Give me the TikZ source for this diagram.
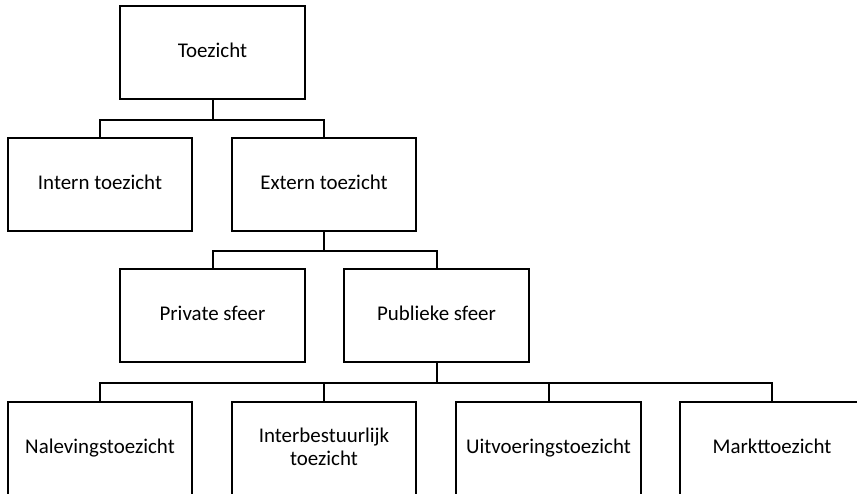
\documentclass[tikz,border=0pt]{standalone}
\usepackage{fontspec}
\setmainfont{Carlito}
\begin{document}
\begin{tikzpicture}[x=0.75pt,y=-0.75pt,
  box/.style={draw=black,line width=1.5pt,rectangle,minimum width=138.5pt,minimum height=69.75pt,
    inner sep=0pt,align=center,text height=12pt,text depth=4pt,font=\fontsize{15.7}{17}\selectfont},
  conn/.style={draw=black,line width=1.5pt}]
\useasboundingbox (0,0) rectangle (857,493);
\clip (0,0) rectangle (857,493);
\fill[white] (0,0) rectangle (857,493);
\node[box] (t) at (212.5,52.5) {Toezicht};
\node[box] (i) at (100,184.5) {Intern toezicht};
\node[box] (e) at (324,184.5) {Extern toezicht};
\node[box] (p) at (212.5,315.5) {Private sfeer};
\node[box] (u) at (436.5,315.5) {Publieke sfeer};
\node[box] (n) at (100,448.5) {Nalevingstoezicht};
\node[box,text height=29pt] (b) at (324,448.5) {Interbestuurlijk\\toezicht};
\node[box] (v) at (548.5,448.5) {Uitvoeringstoezicht};
\node[box] (m) at (772,448.5) {Markttoezicht};
\draw[conn] (t.south) -- ++(0,20) -| (i.north);
\draw[conn] (t.south) ++(0,20) -| (e.north);
\draw[conn] (e.south) -- ++(0,19) -| (p.north);
\draw[conn] (e.south) ++(0,19) -| (u.north);
\draw[conn] (u.south) -- ++(0,20) -| (n.north);
\draw[conn] (u.south) ++(0,20) -| (b.north);
\draw[conn] (u.south) ++(0,20) -| (v.north);
\draw[conn] (u.south) ++(0,20) -| (m.north);
\end{tikzpicture}
\end{document}
